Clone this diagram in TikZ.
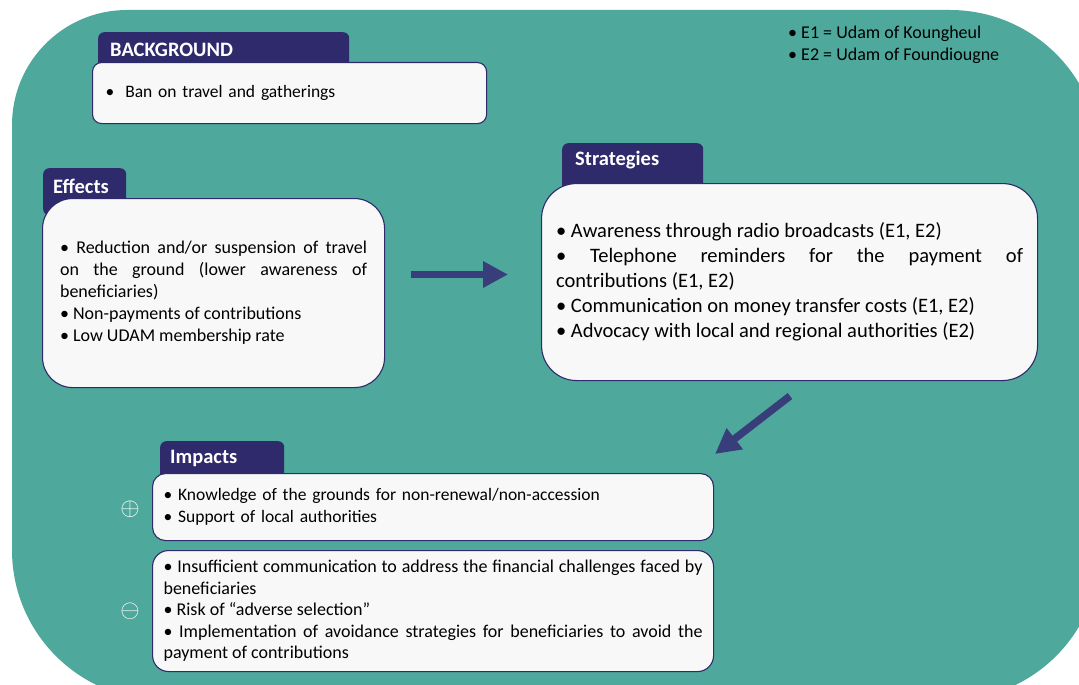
\documentclass[tikz,border=0pt]{standalone}
\usepackage{fontspec}
\setmainfont{Carlito}
\usetikzlibrary{arrows.meta}
\definecolor{udteal}{RGB}{78,168,155}
\definecolor{udnavy}{RGB}{46,42,108}
\definecolor{udarrow}{RGB}{55,62,122}
\definecolor{udcard}{RGB}{248,248,248}

\begin{document}
\begin{tikzpicture}[x=1pt,y=-1pt,
    tab/.style={rectangle,fill=udnavy,rounded corners=6pt,anchor=north west,inner ysep=0pt,align=left,text=white,font=\fontsize{20.5}{24}\bfseries\selectfont},
    card/.style={rectangle,draw=udnavy,line width=1.1pt,fill=udcard,anchor=north west,inner ysep=0pt,text=black},
    bigarrow/.style={udarrow,line width=7.5pt,-{Triangle[width=25pt,length=25pt]}},
    sign/.style={text=white,inner sep=0pt,font=\fontsize{25}{25}\selectfont}]
    \useasboundingbox (0,0) rectangle (1079,685);
    \fill[udteal] (12,300) [rounded corners=115pt] -- (12,10) [rounded corners=150pt] -- (1100,10) -- (1100,700) -- (12,700) -- cycle;

    \node[tab,text width=227pt,inner xsep=12pt,text height=24pt,text depth=16pt] (bgtab) at (98,32) {BACKGROUND};
    \node[tab,text width=63pt,inner xsep=10pt,text height=25pt,text depth=22pt] (efftab) at (43,168) {Effects};
    \node[tab,text width=115pt,inner xsep=13pt,text height=22pt,text depth=30pt] (strtab) at (562,143) {Strategies};
    \node[tab,text width=104pt,inner xsep=10pt,text height=22pt,text depth=20pt] (imptab) at (160,441) {Impacts};

    \node[card,rounded corners=9pt,minimum height=61pt,text width=368pt,inner xsep=13pt,align=left,font=\fontsize{17.5}{22}\selectfont] (bgcard) at (92,62) {\textbullet\hspace{11pt}Ban on travel and gatherings};
    \node[card,rounded corners=30pt,minimum height=189pt,text width=307pt,inner xsep=17.5pt,align=justify,font=\fontsize{18}{22}\selectfont] (effcard) at (42,198) {\textbullet\ Reduction and/or suspension of travel\linebreak on the ground (lower awareness of\linebreak beneficiaries)\\ \textbullet\ Non-payments of contributions\\ \textbullet\ Low UDAM membership rate};
    \node[card,rounded corners=35pt,minimum height=197pt,text width=467pt,inner xsep=14.5pt,align=justify,font=\fontsize{20.5}{25}\selectfont] (strcard) at (541,183) {\textbullet\ Awareness through radio broadcasts (E1, E2)\\ \textbullet\ Telephone reminders for the payment of\linebreak contributions (E1, E2)\\ \textbullet\ Communication on money transfer costs (E1, E2)\\ \textbullet\ Advocacy with local and regional authorities (E2)};
    \node[card,rounded corners=13pt,minimum height=67pt,text width=539pt,inner xsep=11pt,align=left,font=\fontsize{17.5}{21.5}\selectfont] (poscard) at (152,473) {\textbullet\ Knowledge of the grounds for non-renewal/non-accession\\ \textbullet\ Support of local authorities};
    \node[card,rounded corners=16pt,minimum height=121pt,text width=539pt,inner xsep=11pt,align=justify,font=\fontsize{18}{21.5}\selectfont] (negcard) at (152,550) {\textbullet\ Insufficient communication to address the financial challenges faced by\linebreak beneficiaries\\ \textbullet\ Risk of ``adverse selection''\\ \textbullet\ Implementation of avoidance strategies for beneficiaries to avoid the\linebreak payment of contributions};

    \node[sign] (plus) at (130,509) {$\oplus$};
    \node[sign] (minus) at (130,611) {$\ominus$};

    \node[anchor=west,align=left,inner sep=0pt,font=\fontsize{18}{22}\selectfont] (legend) at (788,45) {\textbullet\ E1 = Udam of Koungheul\\ \textbullet\ E2 = Udam of Foundiougne};

    \coordinate (efftail) at (411,274.5);
    \coordinate (strhead) at (508,274.5);
    \coordinate (strtail) at (790,396);
    \coordinate (imphead) at (715,454);
    \draw[bigarrow] (efftail) -- (strhead);
    \draw[bigarrow] (strtail) -- (imphead);
\end{tikzpicture}
\end{document}
